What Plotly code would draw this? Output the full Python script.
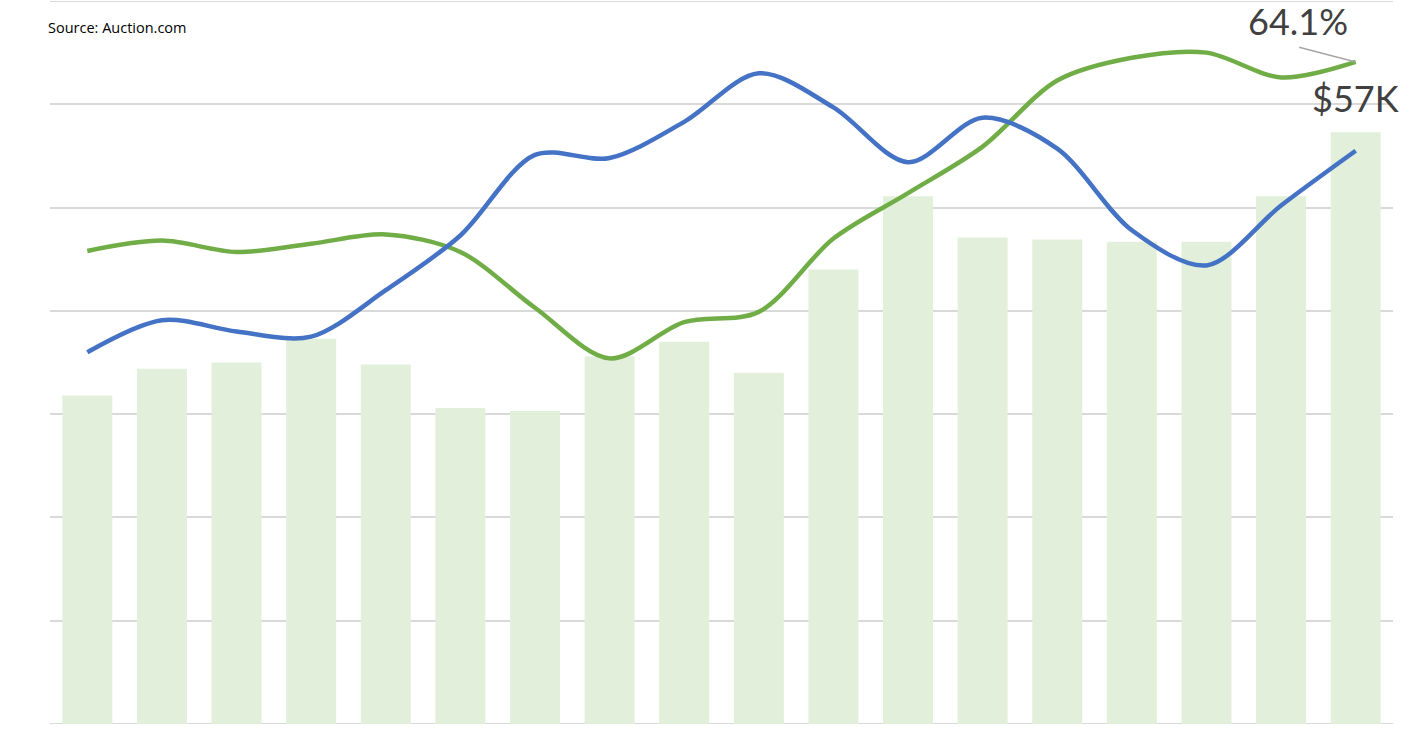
import plotly.graph_objects as go

months = [f"M{i+1}" for i in range(18)]
avg_price_k = [31.8, 34.4, 35.0, 37.3, 34.8, 30.6, 30.3, 35.6, 37.0, 34.0,
               44.0, 51.1, 47.1, 46.9, 46.7, 46.7, 51.1, 57.3]
green_pct = [45.8, 46.8, 45.7, 46.5, 47.4, 45.7, 40.3, 35.4, 38.9, 39.9,
             47.0, 51.4, 55.9, 62.3, 64.5, 65.0, 62.6, 64.1]
blue_pct = [36.0, 39.1, 38.0, 37.5, 42.0, 47.3, 55.1, 54.8, 58.3, 63.0,
            59.7, 54.4, 58.7, 55.7, 47.8, 44.4, 50.2, 55.5]

fig = go.Figure()

fig.add_trace(go.Bar(x=months, y=avg_price_k, marker=dict(color="#E2EFDA", line=dict(width=0)),
                     name="Avg price ($K)", yaxis="y"))
fig.add_trace(go.Scatter(x=months, y=green_pct, mode="lines",
                         line=dict(color="#70AD47", width=4.5, shape="spline", smoothing=0.9),
                         name="Share", yaxis="y2"))
fig.add_trace(go.Scatter(x=months, y=blue_pct, mode="lines",
                         line=dict(color="#4472C4", width=4.5, shape="spline", smoothing=0.9),
                         name="Rate", yaxis="y2"))

# leader line + label for the last green point
fig.add_annotation(x=months[-1], y=green_pct[-1], yref="y2", text="", showarrow=True,
                   arrowhead=0, arrowwidth=1.5, arrowcolor="#A6A6A6", ax=-58, ay=-15)
fig.add_annotation(x=months[-1], y=green_pct[-1], yref="y2", text="64.1%", showarrow=False,
                   xshift=-58, yshift=41, font=dict(family="Lato", size=36, color="#404040"))
fig.add_annotation(x=months[-1], y=avg_price_k[-1], text="$57K", showarrow=False, yshift=34,
                   font=dict(family="Lato", size=36, color="#404040"))
fig.add_annotation(xref="paper", yref="paper", x=-0.003, y=0.963, xanchor="left", yanchor="middle",
                   text="Source: Auction.com", showarrow=False,
                   font=dict(family="Open Sans", size=14.5, color="#000000"))

fig.update_layout(
    width=1409, height=741, margin=dict(l=50, r=16, t=1, b=17),
    plot_bgcolor="white", paper_bgcolor="white", showlegend=False,
    bargap=0.33,
    xaxis=dict(range=[-0.5, len(months) - 0.5], showticklabels=False, showgrid=False,
               zeroline=False, showline=False),
    yaxis=dict(range=[0, 70], dtick=10, showticklabels=False, gridcolor="#D9D9D9", gridwidth=1.5,
               zeroline=False, showline=False),
    yaxis2=dict(range=[0, 70], overlaying="y", showticklabels=False, showgrid=False, zeroline=False),
)
# bottom axis line and top gridline
fig.add_hline(y=0, line=dict(color="#D9D9D9", width=2), layer="below")
fig.add_hline(y=70, line=dict(color="#D9D9D9", width=2), layer="below")

fig.write_html("out.html", config={"displayModeBar": False},
               post_script="document.body.style.margin='0';")
